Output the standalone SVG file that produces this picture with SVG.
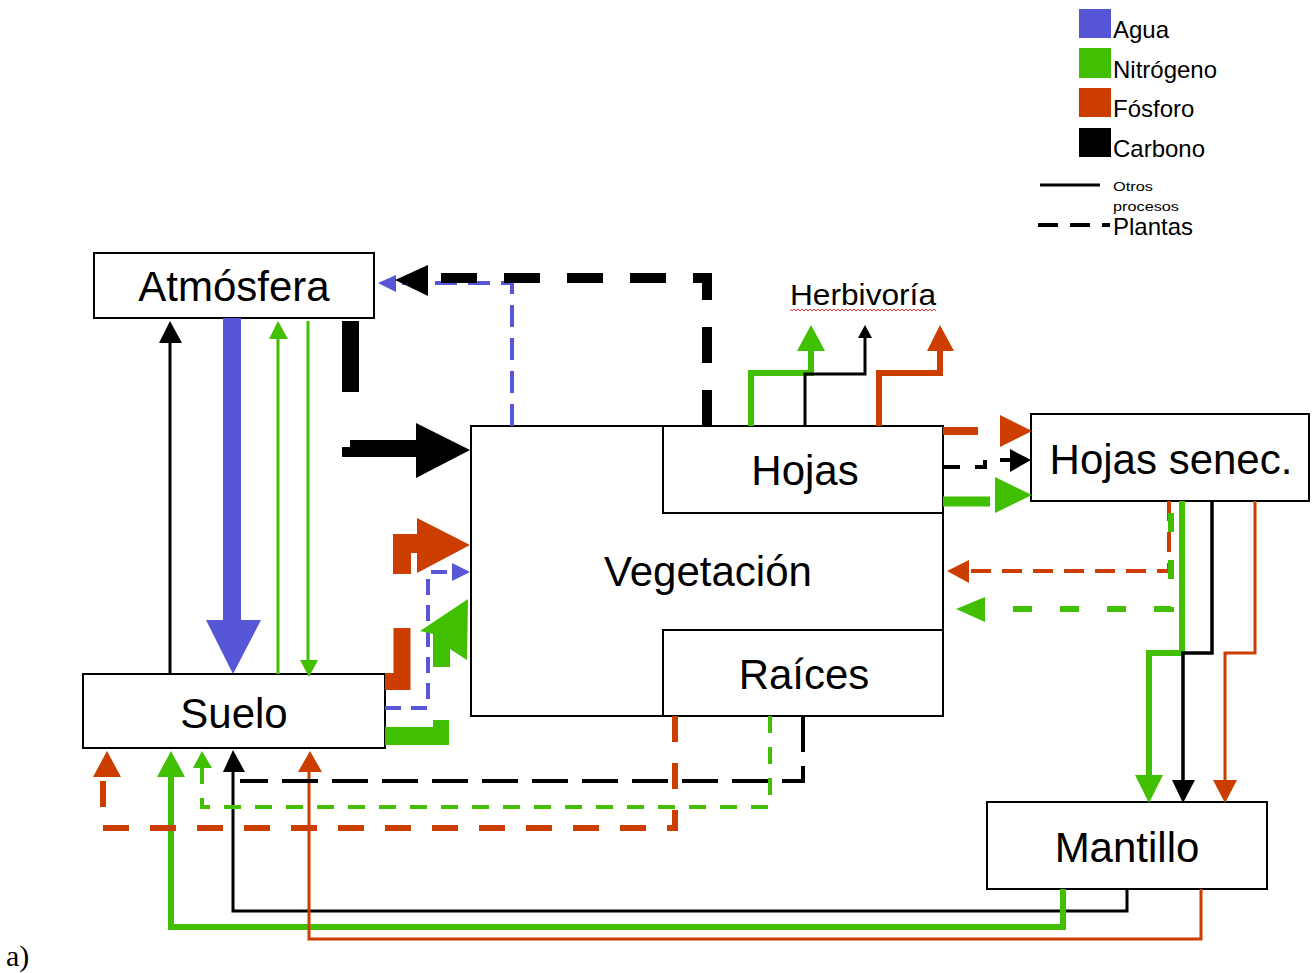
<svg xmlns="http://www.w3.org/2000/svg" width="1314" height="973" viewBox="0 0 1314 973">
<defs>
<style>
.box{fill:#fff;stroke:#000;stroke-width:2}
.lbl{font-family:"Liberation Sans",Arial,sans-serif;font-size:42px;text-anchor:middle;fill:#000}
.leg{font-family:"Liberation Sans",Arial,sans-serif;font-size:24px;fill:#000}
.c path{fill:none;stroke-linejoin:miter;stroke-linecap:butt}
.k{stroke:#000}.b{stroke:#5656d6}.g{stroke:#40c000}.r{stroke:#cc3d00}
.fk{fill:#000}.fb{fill:#5656d6}.fg{fill:#40c000}.fr{fill:#cc3d00}
</style>
<pattern id="wave" x="0" y="0" width="4" height="4" patternUnits="userSpaceOnUse">
<polyline points="0,3 2,1 4,3" fill="none" stroke="#e83030" stroke-width="1"/>
</pattern>
</defs>
<rect width="1314" height="973" fill="#fff"/>

<g id="legend">
<rect x="1079" y="9" width="32" height="29" class="fb"/>
<rect x="1079" y="48" width="32" height="30" class="fg"/>
<rect x="1079" y="88" width="32" height="29" class="fr"/>
<rect x="1079" y="128" width="32" height="29" class="fk"/>
<text x="1113" y="38" class="leg">Agua</text>
<text x="1113" y="78" class="leg">Nitrógeno</text>
<text x="1113" y="117" class="leg">Fósforo</text>
<text x="1113" y="157" class="leg">Carbono</text>
<path d="M1040 185 H1100" stroke="#000" stroke-width="3" fill="none"/>
<text x="1113" y="191" font-family="Liberation Sans, Arial, sans-serif" font-size="12" textLength="40" lengthAdjust="spacingAndGlyphs">Otros</text>
<text x="1113" y="211" font-family="Liberation Sans, Arial, sans-serif" font-size="12" textLength="66" lengthAdjust="spacingAndGlyphs">procesos</text>
<path d="M1038 225 H1110" stroke="#000" stroke-width="4" stroke-dasharray="20 12" fill="none"/>
<text x="1113" y="235" class="leg">Plantas</text>
</g>

<g id="atmosfera">
<rect x="94" y="253" width="280" height="65" class="box"/>
<text x="234" y="301" class="lbl">Atmósfera</text>
</g>
<g id="vegetacion">
<rect x="471" y="426" width="472" height="290" class="box"/>
<text x="708" y="586" class="lbl">Vegetación</text>
</g>
<g id="hojas">
<rect x="663" y="426" width="280" height="87" class="box"/>
<text x="805" y="485" class="lbl">Hojas</text>
</g>
<g id="raices">
<rect x="663" y="630" width="280" height="86" class="box"/>
<text x="804" y="689" class="lbl">Raíces</text>
</g>
<g id="hojas-senec">
<rect x="1031" y="414" width="278" height="87" class="box"/>
<text x="1171" y="474" class="lbl">Hojas senec.</text>
</g>
<g id="suelo">
<rect x="83" y="674" width="302" height="74" class="box"/>
<text x="234" y="728" class="lbl">Suelo</text>
</g>
<g id="mantillo">
<rect x="987" y="802" width="280" height="87" class="box"/>
<text x="1127" y="862" class="lbl">Mantillo</text>
</g>
<g id="herbivoria">
<text x="790" y="305" font-family="Liberation Sans, Arial, sans-serif" font-size="29" textLength="146" lengthAdjust="spacingAndGlyphs">Herbivoría</text>
<rect x="790" y="309" width="146" height="4" fill="url(#wave)"/>
</g>

<g id="connectors" class="c">
<!-- Suelo <-> Atmosfera -->
<path d="M170 674 V340" class="k" stroke-width="3"/>
<polygon points="170,321 159,343 182,343" class="fk"/>
<path d="M232 318 V622" class="b" stroke-width="18"/>
<polygon points="233,674 206,620 261,620" class="fb"/>
<path d="M278 674 V336" class="g" stroke-width="3"/>
<polygon points="278,321 269,339 288,339" class="fg"/>
<path d="M308 321 V662" class="g" stroke-width="3"/>
<polygon points="309,677 300,660 318,660" class="fg"/>
<!-- Atmosfera -> Vegetacion (carbon) -->
<path d="M350.5 321 V392" class="k" stroke-width="17"/>
<polygon points="342,447 350,447 350,440 418,440 418,457 342,457" class="fk"/>
<polygon points="470,450 416,423 416,478" class="fk"/>
<!-- Vegetacion -> Atmosfera (plants) -->
<path d="M512 426 V283 H392" class="b" stroke-width="4" stroke-dasharray="22 11"/>
<polygon points="378,283 396,275 396,292" class="fb"/>
<path d="M707 426 V278 H428" class="k" stroke-width="10" stroke-dasharray="36 27"/>
<polygon points="395,280 428,265 428,296" class="fk"/>
<!-- Suelo -> Vegetacion -->
<path d="M385 681.5 H402 V628" class="r" stroke-width="17"/>
<polygon points="393,574 411,574 411,553 418,553 418,534 393,534" class="fr"/>
<polygon points="470,545 417,518 417,573" class="fr"/>
<path d="M385 708 H428 V572 H455" class="b" stroke-width="4" stroke-dasharray="16 10"/>
<polygon points="470,572 452,563 452,581" class="fb"/>
<polygon points="385,727 433,727 433,720 449,720 449,745 385,745" class="fg"/>
<polygon points="468,599 420,631 433,634 433,667 450,667 450,649 467,660" class="fg"/>
<!-- Herbivoria -->
<path d="M751 426 V373 H811 V350" class="g" stroke-width="6"/>
<polygon points="811,325 797,351 825,351" class="fg"/>
<path d="M805 426 V374 H865 V336" class="k" stroke-width="3"/>
<polygon points="865,325 858,338 872,338" class="fk"/>
<path d="M879 426 V373 H940 V350" class="r" stroke-width="6"/>
<polygon points="940,325 927,351 954,351" class="fr"/>
<!-- Hojas -> Hojas senec. -->
<path d="M943 431 H978" class="r" stroke-width="8"/>
<polygon points="1032,431 1000,415 1000,447" class="fr"/>
<path d="M943 467 H985 V460 H1012" class="k" stroke-width="4" stroke-dasharray="17 15"/>
<polygon points="1031,460 1010,449 1010,472" class="fk"/>
<path d="M943 501.5 H990" class="g" stroke-width="10"/>
<polygon points="1032,495 995,477 995,513" class="fg"/>
<!-- Hojas senec. -> Vegetacion (plants) -->
<path d="M1169 501 V571 H968" class="r" stroke-width="4" stroke-dasharray="20 11"/>
<polygon points="947,571 969,560 969,583" class="fr"/>
<path d="M985 609 H1171 V501" class="g" stroke-width="6" stroke-dasharray="19 28" stroke-dashoffset="19"/>
<polygon points="956,609 985,597 985,622" class="fg"/>
<!-- Hojas senec. -> Mantillo -->
<path d="M1182 501 V653 H1149 V777" class="g" stroke-width="6"/>
<polygon points="1149,803 1135,775 1163,775" class="fg"/>
<path d="M1212 501 V653 H1183 V781" class="k" stroke-width="3.5"/>
<polygon points="1183,803 1172,780 1195,780" class="fk"/>
<path d="M1255 501 V653 H1225 V781" class="r" stroke-width="3"/>
<polygon points="1225,803 1213,780 1237,780" class="fr"/>
<!-- Mantillo -> Suelo -->
<path d="M1127 889 V911 H233 V770" class="k" stroke-width="3"/>
<polygon points="233,750 223,772 245,772" class="fk"/>
<path d="M1063 889 V927 H171 V775" class="g" stroke-width="6"/>
<polygon points="171,751 157,777 185,777" class="fg"/>
<path d="M1201 889 V939 H309 V770" class="r" stroke-width="3"/>
<polygon points="310,751 298,772 322,772" class="fr"/>
<!-- Raices -> Suelo (plants) -->
<path d="M803 716 V781 H240" class="k" stroke-width="4" stroke-dasharray="36 14"/>
<path d="M770 716 V807 H202 V767" class="g" stroke-width="4" stroke-dasharray="17 14"/>
<polygon points="202,751 193,768 212,768" class="fg"/>
<path d="M675 716 V828 H103 V776" class="r" stroke-width="6" stroke-dasharray="26 21"/>
<polygon points="107,751 93,777 121,777" class="fr"/>
</g>

<text x="6" y="966" font-family="Liberation Serif, Times New Roman, serif" font-size="30">a)</text>
</svg>
